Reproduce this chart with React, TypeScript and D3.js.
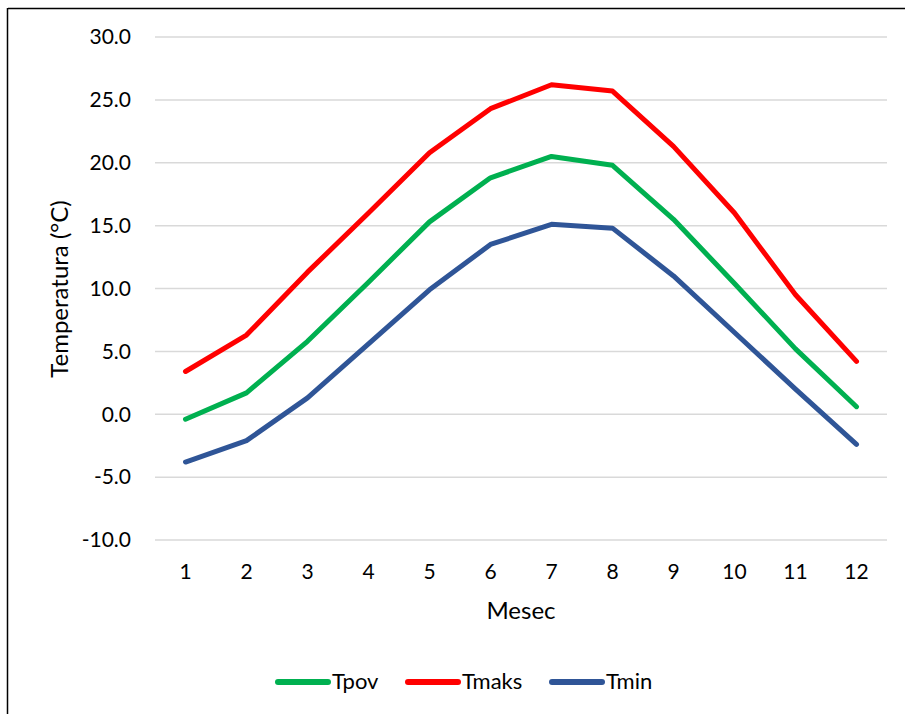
import React from "react";
import * as d3 from "d3";

const months = ["1", "2", "3", "4", "5", "6", "7", "8", "9", "10", "11", "12"];
const tpov = [-0.4, 1.7, 5.8, 10.5, 15.3, 18.8, 20.5, 19.8, 15.5, 10.4, 5.2, 0.6];
const tmaks = [3.4, 6.3, 11.3, 16.0, 20.8, 24.3, 26.2, 25.7, 21.3, 16.0, 9.5, 4.2];
const tmin = [-3.8, -2.1, 1.3, 5.6, 9.9, 13.5, 15.1, 14.8, 11.0, 6.5, 2.0, -2.4];
const yTicks = [-10, -5, 0, 5, 10, 15, 20, 25, 30];

const seriesList = [
  { name: "Tpov", values: tpov, color: "#00b050" },
  { name: "Tmaks", values: tmaks, color: "#ff0000" },
  { name: "Tmin", values: tmin, color: "#2f5597" },
];

const W = 905;
const H = 714;
const FONT = "Lato, 'Open Sans', sans-serif";

export default function App() {
  const left = 155;
  const right = 887;
  const top = 37;
  const bottom = 540;

  const x = d3.scaleBand<string>().domain(months).range([left, right]);
  const y = d3.scaleLinear().domain([-10, 30]).range([bottom, top]);
  const cx = (m: string) => (x(m) as number) + x.bandwidth() / 2;

  const line = d3
    .line<number>()
    .x((_, i) => cx(months[i]))
    .y((d) => y(d));

  const legendX = [275, 405, 549];

  return (
    <svg
      width={W}
      height={H}
      style={{ position: "absolute", left: 0, top: 0, background: "#fff" }}
      fontFamily={FONT}
    >
      <rect x={0} y={0} width={W} height={H} fill="#fff" />
      {/* outer border */}
      <line x1={8} y1={8.5} x2={W} y2={8.5} stroke="#000" strokeWidth={1.5} />
      <line x1={7.5} y1={8} x2={7.5} y2={H} stroke="#000" strokeWidth={1.5} />

      {/* gridlines */}
      {yTicks.map((t) => (
        <line
          key={t}
          x1={left}
          x2={right}
          y1={y(t)}
          y2={y(t)}
          stroke="#d9d9d9"
          strokeWidth={1.5}
        />
      ))}

      {/* y tick labels */}
      {yTicks.map((t) => (
        <text
          key={"l" + t}
          x={131}
          y={y(t)}
          dy="0.35em"
          textAnchor="end"
          fontSize={21}
          fill="#000"
        >
          {t.toFixed(1)}
        </text>
      ))}

      {/* x tick labels */}
      {months.map((m) => (
        <text key={m} x={cx(m)} y={579} textAnchor="middle" fontSize={21} fill="#000">
          {m}
        </text>
      ))}

      {/* axis titles */}
      <text x={(left + right) / 2} y={619} textAnchor="middle" fontSize={24} fill="#000">
        Mesec
      </text>
      <text
        transform={`translate(68,289) rotate(-90)`}
        textAnchor="middle"
        fontSize={24}
        fill="#000"
      >
        Temperatura (°C)
      </text>

      {/* series */}
      {seriesList.map((s) => (
        <path
          key={s.name}
          d={line(s.values) as string}
          fill="none"
          stroke={s.color}
          strokeWidth={5}
          strokeLinejoin="round"
          strokeLinecap="round"
        />
      ))}

      {/* legend */}
      {seriesList.map((s, i) => (
        <g key={"lg" + s.name}>
          <line
            x1={legendX[i] + 3}
            x2={legendX[i] + 53}
            y1={682}
            y2={682}
            stroke={s.color}
            strokeWidth={6}
            strokeLinecap="round"
          />
          <text x={legendX[i] + 57} y={689} fontSize={22} fill="#000">
            {s.name}
          </text>
        </g>
      ))}
    </svg>
  );
}
